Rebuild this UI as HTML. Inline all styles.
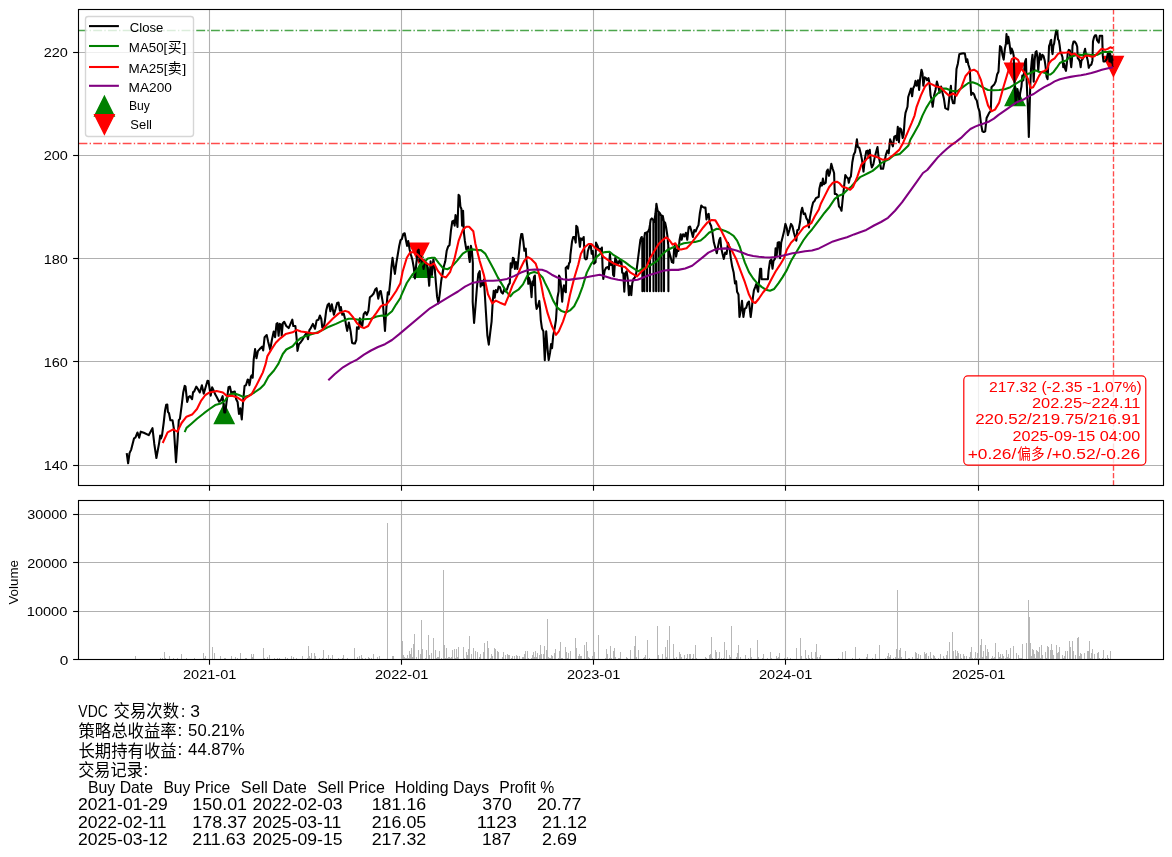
<!DOCTYPE html>
<html lang="zh"><head><meta charset="utf-8"><title>VDC</title>
<style>html,body{margin:0;padding:0;background:#fff}svg text{white-space:pre}.f{font-family:"Liberation Sans","Noto Sans CJK SC",sans-serif}</style></head>
<body>
<svg width="1172" height="857" viewBox="0 0 1172 857" style="display:block;will-change:transform">
<defs><mask id="mk" maskUnits="userSpaceOnUse" x="0" y="0" width="1172" height="857"><rect width="1172" height="857" fill="#fff"/></mask></defs>
<g mask="url(#mk)">
<rect x="0" y="0" width="1172" height="857" fill="#fff"/>
<clipPath id="c1"><rect x="78.5" y="9.5" width="1085.0" height="476.0"/></clipPath>
<g clip-path="url(#c1)">
<path d="M224.23 404.02 L214.43 423.62 L234.03 423.62 Z" fill="#008000" stroke="#008000" stroke-width="1.39" stroke-linejoin="miter"/>
<path d="M423.12 257.61 L413.32 277.21 L432.92 277.21 Z" fill="#008000" stroke="#008000" stroke-width="1.39" stroke-linejoin="miter"/>
<path d="M1015.04 85.91 L1005.24 105.51 L1024.84 105.51 Z" fill="#008000" stroke="#008000" stroke-width="1.39" stroke-linejoin="miter"/>
<path d="M418.91 262.81 L409.11 243.21 L428.71 243.21 Z" fill="#ff0000" stroke="#ff0000" stroke-width="1.39" stroke-linejoin="miter"/>
<path d="M1014.51 82.69 L1004.71 63.09 L1024.31 63.09 Z" fill="#ff0000" stroke="#ff0000" stroke-width="1.39" stroke-linejoin="miter"/>
<path d="M1113.43 76.14 L1103.63 56.54 L1123.23 56.54 Z" fill="#ff0000" stroke="#ff0000" stroke-width="1.39" stroke-linejoin="miter"/>
<line x1="209.5" y1="9.5" x2="209.5" y2="485.5" stroke="#b0b0b0" stroke-width="1.11"/>
<line x1="401.5" y1="9.5" x2="401.5" y2="485.5" stroke="#b0b0b0" stroke-width="1.11"/>
<line x1="593.5" y1="9.5" x2="593.5" y2="485.5" stroke="#b0b0b0" stroke-width="1.11"/>
<line x1="785.5" y1="9.5" x2="785.5" y2="485.5" stroke="#b0b0b0" stroke-width="1.11"/>
<line x1="978.5" y1="9.5" x2="978.5" y2="485.5" stroke="#b0b0b0" stroke-width="1.11"/>
<line x1="78.5" y1="465.5" x2="1163.5" y2="465.5" stroke="#b0b0b0" stroke-width="1.11"/>
<line x1="78.5" y1="361.5" x2="1163.5" y2="361.5" stroke="#b0b0b0" stroke-width="1.11"/>
<line x1="78.5" y1="258.5" x2="1163.5" y2="258.5" stroke="#b0b0b0" stroke-width="1.11"/>
<line x1="78.5" y1="155.5" x2="1163.5" y2="155.5" stroke="#b0b0b0" stroke-width="1.11"/>
<line x1="78.5" y1="52.5" x2="1163.5" y2="52.5" stroke="#b0b0b0" stroke-width="1.11"/>
<path d="M126.72 453.09 L128.12 463.31 L129.52 453.09 L131.20 449.59 L134.00 438.39 L135.40 437.69 L137.50 432.51 L139.18 437.69 L140.72 431.67 L143.80 432.79 L148.70 435.17 L152.48 428.17 L154.30 443.99 L156.40 457.99 L159.20 442.59 L160.17 435.59 L161.01 438.39 L161.99 435.59 L163.67 422.99 L165.07 410.39 L166.19 404.79 L167.31 404.51 L167.87 411.79 L168.99 413.19 L170.39 420.19 L172.49 420.19 L173.89 428.59 L175.99 462.19 L177.67 438.39 L178.79 420.19 L179.91 418.79 L181.59 406.19 L183.27 392.20 L184.67 385.90 L185.51 386.60 L187.19 401.99 L188.59 397.10 L189.99 396.12 L192.09 399.20 L193.07 392.20 L194.19 391.50 L196.29 386.60 L198.11 389.40 L199.79 392.48 L201.89 385.20 L203.71 393.60 L205.39 388.00 L207.49 380.72 L208.47 381.00 L210.71 395.70 L212.11 387.30 L213.51 390.10 L215.19 394.30 L216.59 396.68 L219.11 401.71 L221.07 399.90 L222.61 396.12 L224.29 412.49 L225.27 412.49 L226.39 403.39 L228.49 387.30 L229.89 386.60 L231.29 392.90 L233.11 391.92 L234.79 391.50 L236.19 399.20 L237.59 401.99 L238.99 413.89 L240.38 408.29 L241.78 419.49 L243.18 400.59 L244.58 385.90 L245.98 385.20 L247.66 379.60 L248.50 379.88 L249.48 385.20 L250.88 376.80 L251.58 375.40 L252.70 377.79 L253.68 359.59 L255.08 349.09 L256.48 358.19 L257.88 351.19 L259.70 349.09 L262.08 346.71 L263.20 350.49 L264.60 337.19 L266.70 335.09 L268.10 341.39 L270.20 349.79 L271.88 339.99 L273.70 331.59 L275.10 337.19 L276.50 323.89 L277.48 323.19 L278.60 335.79 L279.72 323.89 L281.12 324.59 L281.68 335.79 L282.80 323.19 L284.20 321.79 L286.29 325.99 L288.67 328.09 L290.49 323.89 L292.31 319.69 L293.29 325.99 L295.39 325.99 L296.51 337.19 L297.49 350.91 L298.89 344.19 L300.29 342.79 L302.39 339.99 L304.49 335.79 L306.59 332.99 L307.99 339.29 L309.39 330.19 L310.79 328.09 L312.89 323.89 L314.99 328.79 L316.67 320.39 L318.49 319.69 L319.89 315.49 L321.29 318.99 L322.27 327.39 L323.39 328.79 L324.79 321.79 L326.19 310.59 L327.59 305.00 L328.99 303.60 L330.39 311.29 L331.79 304.30 L332.91 309.90 L333.89 314.79 L335.71 308.50 L337.11 302.90 L338.51 302.48 L339.91 310.59 L340.89 307.10 L342.29 314.79 L343.69 313.39 L345.09 318.99 L346.07 325.29 L347.19 330.89 L348.87 322.49 L350.69 331.59 L352.09 342.79 L353.49 343.49 L354.89 343.49 L356.29 339.99 L356.99 327.39 L358.67 328.79 L359.79 318.29 L360.91 323.89 L362.31 325.99 L363.71 314.09 L365.38 311.99 L366.78 314.79 L368.46 310.59 L369.86 297.30 L371.68 295.90 L373.50 293.80 L375.18 289.60 L376.58 288.20 L378.26 298.70 L379.66 291.70 L380.78 291.00 L382.88 302.90 L384.98 330.89 L386.38 307.80 L387.78 292.40 L388.90 294.50 L390.58 278.40 L391.40 267.59 L392.52 257.79 L393.92 267.59 L394.90 273.89 L396.30 263.39 L397.70 254.99 L399.10 246.59 L400.50 240.29 L401.90 238.89 L403.30 233.99 L404.70 233.29 L406.10 240.99 L407.08 245.89 L408.20 240.99 L409.60 249.39 L411.00 254.99 L412.40 259.89 L413.80 267.59 L414.92 278.51 L416.32 263.39 L417.72 250.79 L418.70 249.67 L419.68 261.29 L420.80 256.39 L421.92 260.59 L423.60 268.99 L425.00 261.29 L426.68 263.39 L427.80 268.99 L429.20 285.79 L430.59 261.29 L431.99 274.59 L433.39 259.19 L434.79 268.99 L435.91 282.99 L436.89 294.19 L437.00 296.40 L438.40 303.39 L439.80 293.60 L441.20 281.00 L443.30 268.40 L442.49 274.59 L443.89 266.19 L445.29 261.29 L446.69 250.79 L448.09 246.59 L449.49 245.19 L450.89 231.19 L452.29 221.40 L453.69 220.70 L454.67 225.59 L455.51 215.10 L456.49 218.60 L457.47 226.99 L458.59 194.80 L459.57 196.20 L460.41 206.70 L461.39 208.80 L462.09 225.59 L463.07 210.90 L463.91 232.59 L464.89 240.99 L466.29 249.39 L468.11 246.59 L469.09 257.79 L469.79 261.99 L470.91 245.89 L471.89 250.79 L472.87 263.39 L472.69 301.99 L474.09 322.99 L475.49 306.19 L476.89 288.00 L478.29 274.00 L479.69 271.20 L480.67 286.60 L481.79 281.00 L482.91 285.20 L483.89 279.60 L484.87 295.00 L485.99 313.19 L487.39 335.59 L488.79 344.69 L490.19 332.79 L491.59 321.59 L492.71 301.99 L493.69 290.80 L494.67 297.80 L495.79 290.10 L497.19 292.20 L498.59 286.60 L499.99 287.30 L501.39 292.20 L502.79 293.60 L504.19 289.40 L505.59 291.50 L506.99 289.40 L508.39 285.20 L509.79 283.10 L510.66 263.39 L511.78 267.59 L512.90 257.79 L513.88 258.49 L514.86 268.99 L515.98 261.99 L517.38 268.99 L518.78 254.99 L520.18 240.99 L521.30 233.99 L522.28 233.99 L523.26 240.99 L524.38 250.79 L525.78 248.69 L526.38 259.55 L527.52 267.90 L528.28 283.83 L529.04 277.76 L529.80 280.04 L530.55 285.35 L531.54 297.11 L532.45 281.56 L533.21 285.35 L533.97 277.00 L534.88 275.49 L535.33 291.42 L535.86 303.56 L536.62 308.87 L537.76 306.59 L539.28 300.90 L540.04 308.11 L540.80 320.02 L541.99 328.59 L543.39 331.39 L544.79 360.09 L546.19 331.39 L547.59 349.59 L548.71 360.09 L550.10 352.39 L551.08 343.99 L552.06 348.19 L553.18 335.59 L554.58 328.59 L555.97 320.02 L556.73 308.11 L557.49 297.49 L558.63 291.42 L559.01 275.49 L560.14 277.76 L561.28 289.14 L562.19 301.66 L562.95 291.42 L563.94 285.35 L565.08 291.42 L565.83 292.18 L566.21 280.04 L565.68 267.90 L567.35 266.38 L568.11 268.66 L569.02 263.35 L570.01 261.83 L570.40 255.19 L572.08 241.19 L573.20 236.99 L574.60 236.99 L575.72 242.59 L576.28 225.80 L577.40 227.20 L578.80 236.99 L579.92 246.79 L580.90 238.39 L582.30 239.79 L583.70 236.99 L584.68 257.99 L585.80 259.39 L586.92 258.69 L587.90 250.99 L589.30 246.79 L590.70 244.69 L591.68 253.79 L592.80 250.99 L593.92 263.59 L595.59 262.19 L596.01 242.59 L597.69 246.09 L598.67 250.29 L599.79 248.89 L600.49 250.99 L601.89 247.49 L602.59 267.79 L603.29 278.99 L604.69 270.59 L606.09 267.79 L607.91 267.09 L608.89 269.19 L609.87 253.79 L610.99 264.99 L612.39 262.19 L613.09 274.79 L614.07 276.19 L615.19 257.99 L616.59 260.79 L617.29 264.99 L618.69 262.19 L619.67 260.09 L620.51 263.59 L621.49 262.19 L622.19 272.69 L623.31 273.39 L624.29 291.59 L625.27 273.39 L626.67 271.29 L627.79 278.99 L628.91 295.09 L629.89 285.99 L631.29 295.09 L632.27 283.19 L633.39 278.99 L634.79 277.59 L636.19 273.39 L637.59 262.19 L638.99 250.99 L640.39 239.79 L641.79 236.99 L641.20 237.70 L641.90 238.00 L642.28 239.27 L642.40 291.20 L642.52 240.07 L643.40 243.00 L644.28 237.50 L644.40 291.20 L644.52 236.00 L645.00 233.00 L646.40 232.50 L646.98 232.25 L647.10 291.20 L647.22 232.14 L648.00 231.80 L649.30 229.00 L649.88 225.11 L650.00 291.20 L650.12 223.49 L650.70 219.60 L651.80 218.40 L652.80 219.60 L653.38 220.59 L653.50 291.20 L653.62 221.01 L654.20 222.00 L655.40 214.00 L655.98 208.08 L656.10 291.20 L656.22 205.64 L656.40 203.80 L657.60 210.80 L658.58 211.82 L658.70 291.20 L658.82 212.07 L659.90 213.20 L661.10 215.50 L661.28 215.55 L661.40 291.20 L661.52 215.62 L662.80 216.00 L663.80 221.30 L663.88 221.40 L664.00 291.20 L664.12 221.69 L665.20 223.00 L666.30 228.30 L667.50 236.50 L668.00 243.00 L668.28 245.24 L668.40 291.20 L668.52 247.16 L669.00 251.00 L670.49 256.59 L671.89 262.19 L673.29 262.89 L673.99 250.29 L675.10 243.99 L676.08 256.59 L677.48 249.59 L678.46 250.99 L679.58 239.79 L680.70 234.20 L681.68 239.79 L683.08 234.20 L684.48 236.29 L685.88 232.80 L687.28 239.79 L688.68 227.20 L690.08 226.50 L691.48 231.40 L692.88 236.99 L694.28 230.00 L695.68 231.40 L697.08 227.90 L698.48 225.10 L699.88 213.20 L701.28 205.50 L702.68 206.90 L704.08 207.60 L705.48 207.60 L706.46 219.50 L707.58 214.60 L708.70 213.90 L709.68 223.00 L711.08 225.80 L712.48 232.80 L713.88 242.59 L716.80 253.29 L718.20 245.59 L719.32 240.00 L720.30 237.90 L721.28 248.39 L722.40 253.29 L723.80 258.89 L725.20 252.59 L726.60 253.99 L728.00 242.80 L729.40 246.99 L730.80 258.19 L732.20 266.59 L733.60 272.19 L735.00 283.39 L736.12 281.29 L737.10 291.79 L738.50 294.59 L739.48 316.99 L740.59 311.39 L741.99 300.89 L743.39 316.99 L744.79 308.59 L746.19 307.89 L747.59 302.99 L748.99 301.59 L750.67 316.99 L751.79 308.59 L752.91 297.39 L753.89 290.39 L755.29 286.89 L756.27 284.09 L757.39 288.99 L758.09 291.79 L759.07 281.29 L760.19 268.69 L761.17 268.69 L761.59 279.19 L764.39 279.19 L767.89 279.19 L768.59 270.79 L769.99 260.99 L771.39 259.59 L772.51 268.69 L773.49 260.99 L774.89 258.89 L775.59 248.39 L776.71 255.39 L777.69 242.80 L779.09 242.10 L780.07 258.19 L781.19 242.80 L782.59 237.20 L783.99 231.60 L785.39 223.90 L786.79 228.10 L787.91 235.10 L789.59 229.50 L790.99 223.90 L792.39 226.00 L793.79 232.30 L795.19 237.20 L796.31 240.70 L797.29 230.20 L798.69 229.50 L800.09 221.80 L801.07 212.00 L802.19 207.80 L803.59 214.10 L804.99 213.40 L806.39 218.30 L807.79 220.40 L808.91 227.40 L809.89 217.60 L811.29 210.60 L811.70 207.99 L813.10 202.39 L814.50 200.99 L815.90 198.19 L817.30 197.49 L818.70 196.79 L819.40 188.39 L820.80 182.79 L821.92 185.59 L822.90 178.59 L823.88 184.19 L825.70 182.79 L826.68 171.59 L827.80 169.49 L828.92 175.79 L829.90 172.99 L831.29 163.89 L832.69 168.79 L834.09 172.99 L834.79 193.99 L836.19 193.99 L837.59 195.39 L838.99 206.59 L840.39 207.99 L841.51 210.79 L842.91 196.79 L843.89 188.39 L845.29 175.09 L846.69 177.19 L848.09 178.59 L848.79 182.79 L849.91 177.89 L850.89 176.49 L852.29 162.49 L853.69 154.79 L855.09 151.99 L856.91 139.40 L857.89 147.10 L859.29 147.80 L860.69 153.39 L862.09 160.39 L863.49 171.59 L864.89 158.99 L866.29 151.29 L867.69 150.59 L868.67 157.59 L869.79 149.90 L870.91 163.19 L871.89 167.39 L873.29 164.59 L874.69 157.59 L876.09 151.99 L877.49 147.10 L878.47 156.19 L879.59 160.39 L880.99 168.79 L883.09 168.79 L884.49 161.79 L885.89 154.79 L887.29 150.59 L888.69 153.39 L890.09 139.40 L891.49 142.90 L892.89 146.40 L894.29 136.60 L895.69 135.90 L896.67 140.10 L897.79 126.80 L898.91 142.20 L899.89 128.20 L901.29 129.60 L902.69 138.00 L903.67 134.50 L904.79 118.40 L905.49 112.80 L907.50 106.79 L908.20 96.99 L909.60 92.79 L911.00 88.59 L912.12 96.29 L913.10 88.59 L914.50 85.79 L915.48 80.89 L916.60 85.79 L918.00 80.19 L919.12 89.99 L920.10 78.79 L921.50 69.69 L922.48 73.19 L923.32 85.79 L924.72 77.39 L926.12 78.09 L927.10 80.19 L928.50 78.09 L929.48 82.99 L930.59 95.59 L931.71 99.79 L932.69 106.79 L934.09 95.59 L935.49 89.99 L936.89 81.59 L938.29 86.49 L939.69 92.79 L941.09 86.49 L942.49 92.79 L943.89 98.39 L945.29 108.19 L946.69 108.89 L948.09 109.59 L949.49 96.29 L950.89 85.79 L951.87 98.39 L952.99 103.29 L954.39 103.29 L955.09 95.59 L956.49 68.99 L957.89 63.39 L959.29 54.30 L961.39 53.60 L963.49 53.32 L964.89 53.60 L966.29 61.99 L967.27 59.20 L968.39 64.79 L969.79 68.99 L970.49 82.99 L971.19 94.89 L972.59 92.79 L973.99 94.19 L975.39 98.39 L976.79 100.49 L978.19 107.49 L979.59 111.69 L980.99 123.59 L982.39 131.29 L983.79 131.99 L985.19 131.29 L986.59 117.99 L987.99 115.19 L989.39 112.39 L990.79 110.99 L991.49 87.19 L992.89 85.79 L994.29 84.39 L995.69 81.59 L997.09 74.59 L998.49 71.79 L999.19 59.20 L1000.00 46.13 L1001.23 47.36 L1002.45 54.71 L1003.68 59.62 L1004.90 48.58 L1005.88 43.68 L1006.50 33.99 L1007.48 43.43 L1008.34 36.81 L1009.32 42.45 L1009.81 46.13 L1010.79 53.49 L1011.65 48.58 L1012.87 51.65 L1013.73 55.94 L1014.47 80.46 L1014.96 91.49 L1015.69 103.75 L1016.55 98.85 L1017.41 89.04 L1018.39 93.94 L1019.37 100.07 L1020.23 92.72 L1021.45 86.59 L1022.31 75.55 L1023.29 80.46 L1024.27 69.42 L1025.13 61.45 L1025.99 59.00 L1026.48 76.78 L1027.22 93.94 L1027.95 108.65 L1028.81 136.85 L1029.42 116.01 L1030.16 89.04 L1030.89 70.65 L1031.63 62.07 L1032.49 54.71 L1033.10 68.20 L1033.71 81.68 L1034.57 60.84 L1035.55 52.26 L1036.53 51.03 L1037.39 57.16 L1038.25 70.65 L1038.98 62.07 L1039.84 53.49 L1041.07 59.62 L1042.29 54.71 L1043.52 55.94 L1044.75 60.84 L1045.61 66.97 L1046.59 76.78 L1047.57 79.23 L1048.42 62.07 L1049.04 46.13 L1050.02 43.68 L1050.63 40.61 L1051.18 39.92 L1051.81 49.90 L1052.55 54.09 L1053.39 45.70 L1054.12 43.60 L1055.17 36.25 L1056.22 30.47 L1057.27 31.00 L1058.01 39.40 L1058.85 40.45 L1059.69 45.70 L1060.42 51.99 L1061.47 54.09 L1062.52 57.24 L1063.25 67.22 L1064.09 63.54 L1065.14 68.79 L1065.98 70.89 L1066.72 64.59 L1067.77 53.04 L1068.82 49.90 L1069.87 50.42 L1070.39 59.87 L1071.23 67.22 L1071.97 59.34 L1072.49 45.70 L1073.54 41.50 L1074.59 41.50 L1076.17 43.60 L1077.22 46.75 L1077.74 58.29 L1078.79 59.34 L1079.84 61.44 L1080.68 67.22 L1081.42 60.39 L1082.47 59.34 L1083.52 57.24 L1084.25 51.99 L1085.09 48.85 L1085.93 54.09 L1086.67 56.19 L1087.72 60.39 L1088.77 67.74 L1089.82 65.64 L1091.39 64.59 L1092.44 60.39 L1092.97 41.50 L1094.02 37.30 L1095.07 35.20 L1096.12 35.20 L1097.17 40.45 L1098.74 42.55 L1099.79 35.72 L1101.05 35.72 L1102.20 35.72 L1102.73 55.14 L1103.46 61.44 L1105.04 61.44 L1106.61 59.34 L1107.66 54.09 L1108.71 51.99 L1109.45 61.44 L1110.29 54.09 L1111.34 62.49 L1112.18 56.19 L1112.91 66.69" fill="none" stroke="#000" stroke-width="2.08" stroke-linejoin="round" stroke-linecap="butt"/>
<path d="M184.67 432.09 L186.49 427.89 L191.39 423.69 L196.99 418.79 L203.99 413.19 L209.59 408.99 L215.19 405.07 L220.79 403.39 L224.99 400.59 L227.79 396.40 L230.59 394.02 L234.79 393.60 L238.99 395.00 L243.88 397.10 L248.78 395.70 L254.38 392.48 L259.98 388.70 L264.18 384.50 L268.38 376.80 L273.98 370.50 L278.18 364.20 L282.80 353.99 L286.29 349.51 L292.59 346.29 L296.79 341.39 L300.99 337.89 L306.59 335.79 L312.19 334.11 L317.79 332.29 L323.39 329.49 L328.99 326.69 L335.99 323.89 L342.99 320.67 L348.59 318.71 L352.79 318.71 L358.39 319.69 L363.99 319.27 L370.98 318.71 L376.58 316.47 L382.18 315.49 L386.38 315.91 L391.98 311.29 L396.18 304.30 L400.38 298.00 L401.20 295.59 L406.80 282.99 L412.40 274.59 L418.00 268.99 L423.60 262.69 L427.80 258.49 L431.99 257.79 L434.79 257.79 L438.99 263.39 L443.19 268.29 L447.39 269.27 L451.59 266.89 L457.19 260.59 L462.79 253.59 L468.39 250.09 L472.59 249.39 L476.79 250.09 L480.99 250.09 L485.19 253.59 L489.39 261.29 L493.59 268.99 L497.79 277.39 L501.99 284.39 L506.19 291.39 L510.38 296.29 L513.18 292.79 L518.78 289.29 L522.98 284.39 L527.18 275.99 L529.98 273.19 L534.18 272.07 L538.38 273.19 L542.58 277.39 L544.79 282.40 L548.99 290.80 L553.18 300.59 L557.38 307.59 L561.58 311.09 L565.78 312.49 L569.98 310.39 L574.18 306.19 L578.38 297.80 L582.58 286.60 L586.78 272.60 L591.40 263.59 L596.99 256.59 L601.19 253.09 L605.39 252.11 L609.59 251.69 L613.79 255.19 L619.39 258.69 L624.99 262.19 L630.59 266.39 L634.79 269.19 L638.29 271.29 L641.79 269.19 L647.39 267.09 L652.99 263.59 L657.19 260.79 L661.39 255.19 L666.99 250.29 L672.59 247.49 L678.18 245.39 L683.78 243.29 L689.38 242.59 L694.98 241.89 L700.58 240.49 L704.78 236.99 L708.98 232.80 L716.80 228.80 L721.00 229.50 L725.20 230.90 L729.40 233.00 L733.60 235.80 L737.10 240.70 L739.90 246.99 L741.99 253.99 L744.79 262.39 L748.99 272.19 L753.19 278.49 L757.39 283.39 L761.59 286.89 L765.79 289.69 L769.99 290.67 L774.19 288.99 L778.39 283.39 L782.59 277.09 L786.79 270.09 L790.99 260.99 L795.19 253.99 L799.39 246.99 L803.59 240.00 L807.79 234.40 L811.99 229.50 L816.19 223.90 L820.38 218.30 L824.58 212.70 L828.78 207.80 L834.79 198.89 L838.99 195.67 L843.19 193.99 L847.39 189.79 L851.59 186.29 L855.79 181.39 L859.99 177.19 L864.19 175.09 L868.39 172.99 L872.59 170.89 L876.79 167.39 L880.99 163.19 L885.19 161.09 L889.39 158.99 L893.59 155.49 L899.19 154.09 L900.00 153.85 L905.63 148.22 L908.45 145.40 L910.33 139.77 L914.08 133.19 L918.78 124.74 L922.54 115.35 L926.29 107.84 L930.05 101.74 L934.74 96.57 L939.44 91.88 L941.79 88.59 L945.99 88.59 L951.59 90.69 L957.19 91.39 L962.79 87.19 L968.39 82.99 L972.59 82.29 L976.79 83.69 L982.39 87.19 L987.99 89.99 L993.59 90.27 L999.19 89.99 L1004.79 89.29 L1010.38 87.19 L1015.98 83.69 L1021.58 80.19 L1025.78 74.59 L1029.98 73.19 L1032.60 71.94 L1035.75 70.37 L1038.90 71.94 L1042.05 71.94 L1045.20 72.99 L1047.82 74.57 L1050.45 74.57 L1053.60 71.94 L1056.75 67.74 L1059.90 63.02 L1063.04 61.44 L1066.19 60.39 L1069.34 57.24 L1072.49 56.19 L1075.64 55.14 L1078.79 54.62 L1081.94 55.14 L1085.09 53.57 L1088.24 54.62 L1091.39 55.14 L1094.54 55.14 L1097.69 54.62 L1100.84 53.04 L1103.99 51.99 L1107.14 51.99 L1110.29 51.47 L1112.91 52.52" fill="none" stroke="#008000" stroke-width="2.08" stroke-linejoin="round"/>
<path d="M162.69 443.01 L167.59 432.37 L173.19 429.29 L177.39 431.67 L181.59 422.99 L186.49 416.69 L192.09 414.59 L196.99 408.99 L201.19 400.59 L205.39 395.00 L209.59 392.48 L216.59 391.08 L222.89 392.48 L227.09 396.12 L231.99 395.70 L237.59 397.52 L243.18 401.29 L245.98 397.80 L251.58 394.30 L255.78 386.60 L259.98 378.20 L262.78 372.60 L265.58 364.20 L267.40 356.09 L271.60 349.09 L275.80 342.79 L280.00 338.59 L285.59 334.11 L292.59 332.29 L296.79 329.91 L300.99 331.59 L306.59 332.29 L312.19 333.27 L317.79 332.99 L321.99 330.19 L327.59 323.89 L333.19 318.29 L338.79 313.39 L345.09 310.87 L348.59 311.99 L352.79 316.89 L356.99 323.19 L361.19 327.11 L363.99 328.09 L368.18 325.99 L372.38 318.29 L376.58 312.69 L380.78 306.40 L383.58 304.72 L386.38 304.72 L390.58 299.40 L396.18 291.00 L400.38 283.30 L402.60 271.79 L406.80 257.79 L410.30 252.19 L413.80 252.19 L418.00 254.99 L422.20 259.19 L426.40 263.39 L430.59 265.49 L434.09 263.39 L437.59 270.39 L441.79 275.99 L445.99 277.39 L450.19 271.79 L454.39 259.19 L458.59 240.99 L462.79 229.79 L466.29 226.71 L469.09 226.71 L473.29 231.19 L475.39 243.79 L479.59 260.59 L483.79 274.59 L487.99 294.19 L492.29 303.39 L495.79 300.59 L499.99 302.69 L504.89 304.79 L508.39 296.40 L512.59 285.20 L516.79 276.80 L520.18 268.99 L524.38 260.59 L527.88 257.09 L531.38 259.19 L535.58 263.39 L538.38 271.79 L540.59 281.00 L543.39 296.40 L547.59 313.19 L551.78 325.79 L555.98 334.89 L558.78 331.39 L562.98 321.59 L567.18 308.99 L569.98 295.00 L574.18 278.20 L578.38 264.20 L580.90 253.79 L584.40 247.49 L588.60 243.99 L591.40 243.99 L595.59 248.19 L599.79 250.99 L603.29 256.59 L608.19 260.09 L613.79 263.59 L619.39 265.69 L624.99 267.09 L630.59 272.69 L636.89 276.47 L641.79 271.29 L645.99 267.79 L650.19 257.99 L654.39 250.99 L658.59 243.99 L662.79 239.79 L666.29 237.27 L669.09 239.79 L672.59 244.69 L675.38 243.29 L678.18 248.89 L680.98 249.59 L686.58 248.19 L690.78 243.99 L694.98 238.39 L699.18 232.80 L703.38 227.20 L707.58 222.30 L711.78 219.92 L715.40 220.40 L719.60 227.40 L723.80 235.80 L728.00 244.20 L732.20 251.19 L736.40 259.59 L740.59 270.79 L744.79 281.99 L748.99 294.59 L752.49 301.59 L755.29 302.99 L758.79 298.79 L762.99 292.49 L767.19 287.59 L771.39 279.19 L775.59 271.49 L779.79 265.19 L783.99 258.19 L786.79 249.79 L790.99 242.80 L795.19 238.60 L799.39 233.00 L803.59 227.40 L807.79 225.30 L811.29 223.20 L814.79 216.20 L818.99 209.20 L820.80 203.79 L825.00 195.39 L829.20 186.99 L832.69 182.79 L836.89 181.67 L839.69 183.49 L842.49 186.71 L845.99 187.69 L850.19 189.79 L852.99 186.99 L857.19 177.19 L861.39 164.59 L865.59 160.39 L869.79 155.07 L873.99 155.91 L878.19 157.59 L882.39 159.69 L887.99 158.99 L893.59 154.79 L899.19 149.90 L903.39 142.20 L907.59 132.40 L911.78 122.60 L914.58 115.60 L916.60 106.79 L920.80 95.59 L925.00 86.49 L928.50 82.99 L931.99 84.39 L936.19 86.49 L940.39 87.19 L944.59 91.39 L948.79 95.59 L952.99 93.49 L956.49 95.59 L961.39 87.19 L965.59 75.99 L969.79 71.09 L973.99 69.69 L977.49 71.79 L980.99 80.19 L985.19 95.59 L987.99 105.39 L991.49 111.27 L994.99 109.59 L999.19 102.59 L1003.39 87.19 L1007.59 73.19 L1011.78 59.20 L1014.58 57.52 L1018.08 59.90 L1021.58 68.99 L1024.38 72.49 L1027.88 78.79 L1030.68 87.89 L1033.12 87.17 L1035.75 82.44 L1038.90 76.14 L1041.52 71.94 L1044.67 70.89 L1047.30 68.79 L1048.87 63.54 L1051.50 60.39 L1054.65 58.29 L1057.80 54.09 L1060.42 52.52 L1064.09 52.83 L1066.72 52.52 L1068.82 51.99 L1071.44 54.62 L1074.59 53.57 L1077.22 55.67 L1079.84 57.24 L1082.47 58.29 L1085.62 55.67 L1088.77 55.67 L1091.92 56.72 L1094.54 56.19 L1097.69 53.04 L1100.84 49.37 L1102.94 48.85 L1105.04 49.90 L1107.66 48.85 L1110.29 47.27 L1112.91 48.32" fill="none" stroke="#ff0000" stroke-width="2.08" stroke-linejoin="round"/>
<path d="M328.29 380.31 L334.59 374.29 L342.99 367.29 L349.99 363.09 L356.99 359.59 L363.99 354.69 L370.98 350.49 L377.98 346.99 L384.98 344.19 L391.98 339.99 L398.98 334.39 L430.00 308.29 L437.00 304.09 L444.00 299.90 L451.00 295.70 L458.00 291.50 L465.00 286.60 L471.99 283.10 L478.99 281.70 L485.99 280.72 L492.99 280.72 L499.99 280.30 L506.99 278.90 L513.99 276.10 L520.99 272.60 L527.99 270.08 L534.99 269.52 L541.99 269.80 L546.19 271.20 L551.78 274.70 L557.38 277.50 L562.98 279.32 L568.58 279.88 L575.58 278.90 L582.58 277.92 L591.40 276.19 L599.79 274.79 L603.99 275.91 L610.99 278.29 L617.99 279.69 L624.99 280.67 L631.99 280.39 L637.59 279.69 L643.19 277.59 L650.19 274.79 L657.19 272.69 L664.19 270.59 L671.19 269.89 L678.18 269.89 L685.18 268.49 L692.18 265.69 L704.20 256.09 L708.40 252.59 L714.00 250.07 L719.60 248.67 L725.20 248.39 L730.80 249.09 L736.40 250.49 L741.99 252.59 L747.59 254.69 L753.19 256.09 L758.79 256.79 L764.39 257.21 L769.99 257.49 L775.59 257.07 L781.19 256.09 L786.79 254.69 L792.39 253.29 L797.99 252.59 L804.99 251.19 L811.99 250.49 L818.99 248.39 L825.98 244.90 L832.98 241.40 L839.98 239.30 L846.98 237.20 L853.98 234.40 L860.00 232.30 L866.29 229.97 L873.99 225.49 L880.99 221.99 L887.99 217.79 L894.99 210.79 L901.99 202.39 L908.99 192.59 L915.98 182.79 L922.98 172.99 L927.23 170.00 L932.86 163.24 L937.56 157.61 L942.25 152.91 L946.95 148.69 L951.64 144.93 L956.34 141.64 L961.03 137.89 L965.73 133.19 L970.42 128.97 L975.12 126.62 L979.81 124.74 L984.51 123.33 L989.20 121.46 L993.90 118.64 L998.59 114.88 L1003.29 111.60 L1007.98 108.31 L1015.98 102.59 L1022.98 99.79 L1029.98 95.59 L1033.65 93.99 L1038.90 90.31 L1044.15 87.17 L1049.40 84.54 L1054.65 81.39 L1059.90 79.29 L1065.14 78.03 L1070.39 76.88 L1075.64 75.93 L1080.89 75.30 L1086.14 74.25 L1091.39 72.99 L1096.64 71.42 L1101.89 69.84 L1107.14 68.58 L1112.91 67.22" fill="none" stroke="#800080" stroke-width="2.08" stroke-linejoin="round"/>
<line x1="78.5" y1="30.5" x2="1163.5" y2="30.5" stroke="#008000" stroke-opacity="0.7" stroke-width="1.39" stroke-dasharray="8.89 2.22 1.39 2.22"/>
<line x1="78.5" y1="143.5" x2="1163.5" y2="143.5" stroke="#ff0000" stroke-opacity="0.7" stroke-width="1.39" stroke-dasharray="8.89 2.22 1.39 2.22"/>
<line x1="1113.5" y1="485.5" x2="1113.5" y2="9.5" stroke="#ff0000" stroke-opacity="0.7" stroke-width="1.39" stroke-dasharray="5.14 2.22"/>
</g>
<rect x="78.5" y="9.5" width="1085.0" height="476.0" fill="none" stroke="#000" stroke-width="1.11"/>
<line x1="73.1" y1="465.50" x2="78.5" y2="465.50" stroke="#000" stroke-width="1.11"/>
<text x="43.78" y="470.00" font-size="13.1" class="f" fill="#000" text-anchor="start" textLength="24.18" lengthAdjust="spacingAndGlyphs">140</text>
<line x1="73.1" y1="361.50" x2="78.5" y2="361.50" stroke="#000" stroke-width="1.11"/>
<text x="43.78" y="367.00" font-size="13.1" class="f" fill="#000" text-anchor="start" textLength="24.18" lengthAdjust="spacingAndGlyphs">160</text>
<line x1="73.1" y1="258.50" x2="78.5" y2="258.50" stroke="#000" stroke-width="1.11"/>
<text x="43.78" y="264.00" font-size="13.1" class="f" fill="#000" text-anchor="start" textLength="24.18" lengthAdjust="spacingAndGlyphs">180</text>
<line x1="73.1" y1="155.50" x2="78.5" y2="155.50" stroke="#000" stroke-width="1.11"/>
<text x="43.78" y="160.00" font-size="13.1" class="f" fill="#000" text-anchor="start" textLength="24.18" lengthAdjust="spacingAndGlyphs">200</text>
<line x1="73.1" y1="52.50" x2="78.5" y2="52.50" stroke="#000" stroke-width="1.11"/>
<text x="43.78" y="57.00" font-size="13.1" class="f" fill="#000" text-anchor="start" textLength="24.18" lengthAdjust="spacingAndGlyphs">220</text>
<line x1="209.5" y1="485.5" x2="209.5" y2="490.7" stroke="#000" stroke-width="1.11"/>
<line x1="401.5" y1="485.5" x2="401.5" y2="490.7" stroke="#000" stroke-width="1.11"/>
<line x1="593.5" y1="485.5" x2="593.5" y2="490.7" stroke="#000" stroke-width="1.11"/>
<line x1="785.5" y1="485.5" x2="785.5" y2="490.7" stroke="#000" stroke-width="1.11"/>
<line x1="978.5" y1="485.5" x2="978.5" y2="490.7" stroke="#000" stroke-width="1.11"/>
<rect x="963.8" y="375.9" width="182.0" height="89.2" rx="4" ry="4" fill="#fff" fill-opacity="0.8" stroke="#ff0000" stroke-width="1.2"/>
<text x="989.02" y="391.50" font-size="14.9" class="f" fill="#ff0000" text-anchor="start" textLength="152.68" lengthAdjust="spacingAndGlyphs">217.32 (-2.35 -1.07%)</text>
<text x="1031.98" y="408.40" font-size="14.9" class="f" fill="#ff0000" text-anchor="start" textLength="108.49" lengthAdjust="spacingAndGlyphs">202.25~224.11</text>
<text x="975.15" y="424.30" font-size="14.9" class="f" fill="#ff0000" text-anchor="start" textLength="165.34" lengthAdjust="spacingAndGlyphs">220.52/219.75/216.91</text>
<text x="1012.49" y="440.50" font-size="14.9" class="f" fill="#ff0000" text-anchor="start" textLength="127.79" lengthAdjust="spacingAndGlyphs">2025-09-15 04:00</text>
<text x="967.74" y="458.50" font-size="14.9" class="f" fill="#ff0000" text-anchor="start" textLength="48.53" lengthAdjust="spacingAndGlyphs">+0.26/</text>
<text x="1017.30" y="458.50" font-size="14.6" class="f" fill="#ff0000" text-anchor="start" textLength="27.20" lengthAdjust="spacingAndGlyphs">偏多</text>
<text x="1046.90" y="458.50" font-size="14.9" class="f" fill="#ff0000" text-anchor="start" textLength="93.30" lengthAdjust="spacingAndGlyphs">/+0.52/-0.26</text>
<rect x="85.5" y="16.5" width="108.0" height="120.0" rx="2.8" ry="2.8" fill="#fff" fill-opacity="0.8" stroke="#ccc" stroke-opacity="0.8" stroke-width="1.39"/>
<line x1="89" y1="26.1" x2="118.9" y2="26.1" stroke="#000" stroke-width="2.08"/>
<line x1="89" y1="46.0" x2="118.9" y2="46.0" stroke="#008000" stroke-width="2.08"/>
<line x1="89" y1="67.0" x2="118.9" y2="67.0" stroke="#ff0000" stroke-width="2.08"/>
<line x1="89" y1="85.8" x2="118.9" y2="85.8" stroke="#800080" stroke-width="2.08"/>
<path d="M104.40 96.40 L94.60 116.00 L114.20 116.00 Z" fill="#008000" stroke="#008000" stroke-width="1.39" stroke-linejoin="miter"/>
<path d="M104.40 134.30 L94.60 114.70 L114.20 114.70 Z" fill="#ff0000" stroke="#ff0000" stroke-width="1.39" stroke-linejoin="miter"/>
<text x="129.74" y="31.80" font-size="12.7" class="f" fill="#000" text-anchor="start" textLength="33.57" lengthAdjust="spacingAndGlyphs">Close</text>
<text x="128.84" y="51.80" font-size="12.7" class="f" fill="#000" text-anchor="start" textLength="38.40" lengthAdjust="spacingAndGlyphs">MA50[</text>
<text x="167.70" y="52.30" font-size="13.9" class="f" fill="#000" text-anchor="start">买</text>
<text x="182.43" y="51.80" font-size="12.7" class="f" fill="#000" text-anchor="start" textLength="3.75" lengthAdjust="spacingAndGlyphs">]</text>
<text x="128.62" y="73.20" font-size="12.7" class="f" fill="#000" text-anchor="start" textLength="38.91" lengthAdjust="spacingAndGlyphs">MA25[</text>
<text x="167.70" y="72.70" font-size="13.9" class="f" fill="#000" text-anchor="start">卖</text>
<text x="182.33" y="73.20" font-size="12.7" class="f" fill="#000" text-anchor="start" textLength="4.03" lengthAdjust="spacingAndGlyphs">]</text>
<text x="128.61" y="91.70" font-size="12.7" class="f" fill="#000" text-anchor="start" textLength="43.32" lengthAdjust="spacingAndGlyphs">MA200</text>
<text x="128.93" y="109.80" font-size="12.7" class="f" fill="#000" text-anchor="start" textLength="20.95" lengthAdjust="spacingAndGlyphs">Buy</text>
<text x="130.32" y="128.50" font-size="12.7" class="f" fill="#000" text-anchor="start" textLength="21.56" lengthAdjust="spacingAndGlyphs">Sell</text>
<clipPath id="c2"><rect x="78.5" y="500.5" width="1085.0" height="159.0"/></clipPath>
<g clip-path="url(#c2)">
<line x1="209.5" y1="500.5" x2="209.5" y2="659.5" stroke="#b0b0b0" stroke-width="1.11"/>
<line x1="401.5" y1="500.5" x2="401.5" y2="659.5" stroke="#b0b0b0" stroke-width="1.11"/>
<line x1="593.5" y1="500.5" x2="593.5" y2="659.5" stroke="#b0b0b0" stroke-width="1.11"/>
<line x1="785.5" y1="500.5" x2="785.5" y2="659.5" stroke="#b0b0b0" stroke-width="1.11"/>
<line x1="978.5" y1="500.5" x2="978.5" y2="659.5" stroke="#b0b0b0" stroke-width="1.11"/>
<line x1="78.5" y1="611.5" x2="1163.5" y2="611.5" stroke="#b0b0b0" stroke-width="1.11"/>
<line x1="78.5" y1="562.5" x2="1163.5" y2="562.5" stroke="#b0b0b0" stroke-width="1.11"/>
<line x1="78.5" y1="514.5" x2="1163.5" y2="514.5" stroke="#b0b0b0" stroke-width="1.11"/>
<path d="M135 659V656h1V659zM160 659V658h1V659zM162 659V658h1V659zM164 659V652h1V659zM165 659V658h1V659zM169 659V656h1V659zM173 659V658h1V659zM177 659V658h1V659zM181 659V654h1V659zM186 659V658h1V659zM194 659V658h1V659zM203 659V653h1V659zM204 659V658h1V659zM205 659V656h1V659zM209 659V658h1V659zM212 659V647h1V659zM214 659V653h1V659zM220 659V656h1V659zM224 659V658h1V659zM225 659V658h1V659zM231 659V656h1V659zM235 659V657h1V659zM237 659V658h1V659zM240 659V653h1V659zM245 659V658h1V659zM246 659V658h1V659zM251 659V654h1V659zM252 659V657h1V659zM253 659V654h1V659zM263 659V648h1V659zM264 659V658h1V659zM267 659V657h1V659zM269 659V655h1V659zM274 659V658h1V659zM277 659V658h1V659zM279 659V658h1V659zM285 659V657h1V659zM287 659V658h1V659zM291 659V656h1V659zM293 659V657h1V659zM296 659V658h1V659zM302 659V656h1V659zM307 659V658h1V659zM308 659V646h1V659zM309 659V656h1V659zM310 659V658h1V659zM311 659V653h1V659zM314 659V653h1V659zM315 659V656h1V659zM319 659V658h1V659zM322 659V658h1V659zM323 659V650h1V659zM326 659V658h1V659zM328 659V655h1V659zM330 659V658h1V659zM332 659V655h1V659zM338 659V658h1V659zM342 659V658h1V659zM343 659V655h1V659zM347 659V658h1V659zM354 659V648h1V659zM357 659V657h1V659zM359 659V656h1V659zM361 659V655h1V659zM362 659V658h1V659zM365 659V658h1V659zM368 659V657h1V659zM369 659V658h1V659zM371 659V658h1V659zM373 659V654h1V659zM377 659V657h1V659zM379 659V656h1V659zM387 659V523h1V659zM392 659V656h1V659zM393 659V656h1V659zM401 659V658h1V659zM402 659V641h1V659zM403 659V655h1V659zM404 659V657h1V659zM405 659V658h1V659zM406 659V658h1V659zM407 659V655h1V659zM408 659V658h1V659zM409 659V651h1V659zM410 659V654h1V659zM411 659V648h1V659zM412 659V657h1V659zM413 659V644h1V659zM414 659V634h1V659zM416 659V657h1V659zM418 659V650h1V659zM420 659V654h1V659zM421 659V620h1V659zM422 659V649h1V659zM425 659V658h1V659zM426 659V650h1V659zM428 659V635h1V659zM429 659V655h1V659zM431 659V653h1V659zM433 659V638h1V659zM435 659V650h1V659zM436 659V658h1V659zM437 659V657h1V659zM438 659V657h1V659zM439 659V651h1V659zM441 659V658h1V659zM443 659V570h1V659zM444 659V645h1V659zM445 659V658h1V659zM446 659V648h1V659zM447 659V658h1V659zM448 659V657h1V659zM449 659V657h1V659zM450 659V658h1V659zM451 659V657h1V659zM452 659V650h1V659zM454 659V649h1V659zM455 659V658h1V659zM456 659V649h1V659zM457 659V657h1V659zM458 659V647h1V659zM463 659V647h1V659zM464 659V658h1V659zM466 659V652h1V659zM467 659V655h1V659zM468 659V649h1V659zM469 659V636h1V659zM471 659V654h1V659zM473 659V648h1V659zM475 659V651h1V659zM477 659V652h1V659zM479 659V657h1V659zM480 659V654h1V659zM483 659V652h1V659zM484 659V643h1V659zM487 659V641h1V659zM488 659V648h1V659zM490 659V658h1V659zM491 659V654h1V659zM492 659V656h1V659zM494 659V648h1V659zM495 659V649h1V659zM497 659V651h1V659zM498 659V652h1V659zM502 659V657h1V659zM503 659V652h1V659zM505 659V655h1V659zM507 659V654h1V659zM508 659V655h1V659zM509 659V655h1V659zM511 659V658h1V659zM512 659V656h1V659zM514 659V656h1V659zM516 659V655h1V659zM517 659V656h1V659zM519 659V656h1V659zM522 659V657h1V659zM523 659V657h1V659zM524 659V654h1V659zM525 659V651h1V659zM527 659V651h1V659zM528 659V658h1V659zM531 659V658h1V659zM532 659V655h1V659zM533 659V652h1V659zM534 659V657h1V659zM535 659V651h1V659zM536 659V657h1V659zM537 659V653h1V659zM539 659V655h1V659zM540 659V645h1V659zM541 659V654h1V659zM543 659V654h1V659zM544 659V646h1V659zM546 659V650h1V659zM547 659V619h1V659zM548 659V657h1V659zM549 659V658h1V659zM550 659V658h1V659zM551 659V655h1V659zM552 659V656h1V659zM554 659V653h1V659zM555 659V649h1V659zM558 659V658h1V659zM559 659V651h1V659zM560 659V642h1V659zM561 659V658h1V659zM562 659V658h1V659zM565 659V647h1V659zM566 659V652h1V659zM567 659V658h1V659zM568 659V653h1V659zM570 659V651h1V659zM575 659V638h1V659zM576 659V648h1V659zM578 659V656h1V659zM579 659V654h1V659zM580 659V656h1V659zM581 659V656h1V659zM584 659V645h1V659zM586 659V642h1V659zM587 659V651h1V659zM588 659V657h1V659zM589 659V658h1V659zM592 659V656h1V659zM593 659V657h1V659zM594 659V652h1V659zM598 659V635h1V659zM605 659V658h1V659zM606 659V649h1V659zM607 659V654h1V659zM609 659V658h1V659zM610 659V646h1V659zM611 659V658h1V659zM613 659V651h1V659zM614 659V648h1V659zM615 659V657h1V659zM618 659V658h1V659zM619 659V658h1V659zM620 659V652h1V659zM626 659V657h1V659zM627 659V658h1V659zM630 659V650h1V659zM634 659V646h1V659zM635 659V636h1V659zM636 659V657h1V659zM638 659V650h1V659zM643 659V658h1V659zM644 659V657h1V659zM645 659V655h1V659zM647 659V640h1V659zM649 659V658h1V659zM657 659V626h1V659zM658 659V655h1V659zM662 659V654h1V659zM665 659V647h1V659zM666 659V657h1V659zM667 659V640h1V659zM669 659V626h1V659zM673 659V644h1V659zM674 659V658h1V659zM676 659V657h1V659zM679 659V652h1V659zM680 659V654h1V659zM681 659V657h1V659zM684 659V655h1V659zM686 659V658h1V659zM687 659V654h1V659zM689 659V654h1V659zM690 659V654h1V659zM692 659V658h1V659zM693 659V654h1V659zM695 659V645h1V659zM696 659V658h1V659zM705 659V657h1V659zM706 659V658h1V659zM709 659V655h1V659zM710 659V654h1V659zM711 659V637h1V659zM712 659V658h1V659zM715 659V650h1V659zM716 659V652h1V659zM718 659V658h1V659zM719 659V652h1V659zM721 659V658h1V659zM723 659V658h1V659zM724 659V642h1V659zM726 659V650h1V659zM729 659V655h1V659zM730 659V657h1V659zM731 659V626h1V659zM736 659V657h1V659zM737 659V653h1V659zM738 659V645h1V659zM740 659V657h1V659zM745 659V655h1V659zM748 659V658h1V659zM750 659V648h1V659zM751 659V657h1V659zM757 659V640h1V659zM758 659V657h1V659zM762 659V658h1V659zM763 659V654h1V659zM767 659V658h1V659zM770 659V652h1V659zM771 659V658h1V659zM776 659V656h1V659zM777 659V658h1V659zM778 659V657h1V659zM779 659V653h1V659zM784 659V658h1V659zM787 659V657h1V659zM790 659V658h1V659zM796 659V648h1V659zM800 659V638h1V659zM801 659V656h1V659zM805 659V650h1V659zM806 659V658h1V659zM808 659V655h1V659zM809 659V658h1V659zM811 659V652h1V659zM812 659V658h1V659zM815 659V652h1V659zM816 659V644h1V659zM817 659V657h1V659zM819 659V657h1V659zM820 659V655h1V659zM838 659V658h1V659zM842 659V652h1V659zM845 659V651h1V659zM852 659V658h1V659zM855 659V647h1V659zM859 659V658h1V659zM866 659V657h1V659zM867 659V654h1V659zM872 659V658h1V659zM875 659V654h1V659zM879 659V645h1V659zM885 659V658h1V659zM887 659V656h1V659zM888 659V653h1V659zM889 659V657h1V659zM890 659V655h1V659zM893 659V658h1V659zM895 659V657h1V659zM896 659V649h1V659zM897 659V590h1V659zM898 659V658h1V659zM899 659V650h1V659zM900 659V648h1V659zM901 659V657h1V659zM905 659V651h1V659zM908 659V658h1V659zM909 659V658h1V659zM912 659V657h1V659zM915 659V652h1V659zM916 659V653h1V659zM917 659V658h1V659zM918 659V654h1V659zM920 659V655h1V659zM924 659V652h1V659zM925 659V654h1V659zM926 659V653h1V659zM928 659V656h1V659zM930 659V652h1V659zM931 659V658h1V659zM933 659V655h1V659zM934 659V656h1V659zM935 659V658h1V659zM938 659V658h1V659zM940 659V654h1V659zM943 659V656h1V659zM944 659V658h1V659zM946 659V655h1V659zM947 659V651h1V659zM949 659V642h1V659zM952 659V632h1V659zM953 659V651h1V659zM955 659V650h1V659zM956 659V656h1V659zM957 659V651h1V659zM958 659V653h1V659zM960 659V654h1V659zM961 659V658h1V659zM963 659V654h1V659zM964 659V656h1V659zM966 659V656h1V659zM969 659V657h1V659zM970 659V652h1V659zM971 659V647h1V659zM972 659V658h1V659zM974 659V658h1V659zM975 659V652h1V659zM976 659V658h1V659zM977 659V653h1V659zM978 659V656h1V659zM979 659V658h1V659zM980 659V645h1V659zM981 659V639h1V659zM982 659V657h1V659zM983 659V651h1V659zM985 659V645h1V659zM986 659V656h1V659zM987 659V649h1V659zM988 659V652h1V659zM991 659V658h1V659zM992 659V656h1V659zM993 659V658h1V659zM994 659V657h1V659zM995 659V643h1V659zM998 659V652h1V659zM999 659V657h1V659zM1000 659V654h1V659zM1001 659V658h1V659zM1002 659V654h1V659zM1003 659V656h1V659zM1005 659V658h1V659zM1006 659V650h1V659zM1007 659V657h1V659zM1008 659V654h1V659zM1009 659V658h1V659zM1010 659V648h1V659zM1013 659V646h1V659zM1016 659V653h1V659zM1018 659V655h1V659zM1019 659V658h1V659zM1020 659V658h1V659zM1021 659V658h1V659zM1022 659V644h1V659zM1026 659V643h1V659zM1028 659V600h1V659zM1029 659V617h1V659zM1030 659V643h1V659zM1031 659V656h1V659zM1032 659V649h1V659zM1033 659V650h1V659zM1034 659V654h1V659zM1035 659V658h1V659zM1036 659V650h1V659zM1037 659V651h1V659zM1038 659V652h1V659zM1039 659V647h1V659zM1040 659V658h1V659zM1041 659V645h1V659zM1042 659V655h1V659zM1045 659V652h1V659zM1046 659V658h1V659zM1047 659V646h1V659zM1048 659V647h1V659zM1050 659V650h1V659zM1051 659V644h1V659zM1052 659V650h1V659zM1053 659V655h1V659zM1056 659V645h1V659zM1057 659V653h1V659zM1058 659V652h1V659zM1059 659V647h1V659zM1062 659V655h1V659zM1063 659V658h1V659zM1064 659V656h1V659zM1065 659V651h1V659zM1067 659V651h1V659zM1069 659V641h1V659zM1070 659V647h1V659zM1072 659V641h1V659zM1073 659V651h1V659zM1075 659V655h1V659zM1077 659V638h1V659zM1078 659V637h1V659zM1079 659V656h1V659zM1080 659V653h1V659zM1081 659V654h1V659zM1084 659V653h1V659zM1087 659V651h1V659zM1088 659V651h1V659zM1089 659V641h1V659zM1090 659V658h1V659zM1091 659V653h1V659zM1092 659V649h1V659zM1094 659V654h1V659zM1097 659V653h1V659zM1098 659V652h1V659zM1099 659V658h1V659zM1102 659V658h1V659zM1103 659V650h1V659zM1105 659V658h1V659zM1107 659V655h1V659zM1108 659V658h1V659zM1110 659V651h1V659z" fill="#b7b7b7" shape-rendering="crispEdges"/>
</g>
<rect x="78.5" y="500.5" width="1085.0" height="159.0" fill="none" stroke="#000" stroke-width="1.11"/>
<line x1="73.1" y1="659.5" x2="78.5" y2="659.5" stroke="#000" stroke-width="1.11"/>
<text x="59.68" y="665.00" font-size="13.1" class="f" fill="#000" text-anchor="start" textLength="8.57" lengthAdjust="spacingAndGlyphs">0</text>
<line x1="73.1" y1="611.5" x2="78.5" y2="611.5" stroke="#000" stroke-width="1.11"/>
<text x="26.81" y="616.00" font-size="13.1" class="f" fill="#000" text-anchor="start" textLength="40.52" lengthAdjust="spacingAndGlyphs">10000</text>
<line x1="73.1" y1="562.5" x2="78.5" y2="562.5" stroke="#000" stroke-width="1.11"/>
<text x="27.18" y="568.00" font-size="13.1" class="f" fill="#000" text-anchor="start" textLength="40.14" lengthAdjust="spacingAndGlyphs">20000</text>
<line x1="73.1" y1="514.5" x2="78.5" y2="514.5" stroke="#000" stroke-width="1.11"/>
<text x="27.32" y="519.00" font-size="13.1" class="f" fill="#000" text-anchor="start" textLength="39.99" lengthAdjust="spacingAndGlyphs">30000</text>
<line x1="209.5" y1="659.5" x2="209.5" y2="664.7" stroke="#000" stroke-width="1.11"/>
<text x="182.97" y="678.80" font-size="13.0" class="f" fill="#000" text-anchor="start" textLength="53.38" lengthAdjust="spacingAndGlyphs">2021-01</text>
<line x1="401.5" y1="659.5" x2="401.5" y2="664.7" stroke="#000" stroke-width="1.11"/>
<text x="374.97" y="678.80" font-size="13.0" class="f" fill="#000" text-anchor="start" textLength="53.38" lengthAdjust="spacingAndGlyphs">2022-01</text>
<line x1="593.5" y1="659.5" x2="593.5" y2="664.7" stroke="#000" stroke-width="1.11"/>
<text x="566.97" y="678.80" font-size="13.0" class="f" fill="#000" text-anchor="start" textLength="53.38" lengthAdjust="spacingAndGlyphs">2023-01</text>
<line x1="785.5" y1="659.5" x2="785.5" y2="664.7" stroke="#000" stroke-width="1.11"/>
<text x="758.97" y="678.80" font-size="13.0" class="f" fill="#000" text-anchor="start" textLength="53.38" lengthAdjust="spacingAndGlyphs">2024-01</text>
<line x1="978.5" y1="659.5" x2="978.5" y2="664.7" stroke="#000" stroke-width="1.11"/>
<text x="951.97" y="678.80" font-size="13.0" class="f" fill="#000" text-anchor="start" textLength="53.38" lengthAdjust="spacingAndGlyphs">2025-01</text>
<text transform="translate(18.2 582.3) rotate(-90)" font-size="12.7" class="f" text-anchor="middle" textLength="44.6" lengthAdjust="spacingAndGlyphs">Volume</text>
<text x="78.33" y="716.70" font-size="16.4" class="f" fill="#000" text-anchor="start" textLength="29.48" lengthAdjust="spacingAndGlyphs">VDC</text>
<text x="113.60" y="717.00" font-size="17.0" class="f" fill="#000" text-anchor="start" textLength="65.40" lengthAdjust="spacingAndGlyphs">交易次数</text>
<text x="180.68" y="716.70" font-size="16.4" class="f" fill="#000" text-anchor="start" textLength="4.68" lengthAdjust="spacingAndGlyphs">:</text>
<text x="190.30" y="716.70" font-size="16.4" class="f" fill="#000" text-anchor="start" textLength="9.72" lengthAdjust="spacingAndGlyphs">3</text>
<text x="78.40" y="737.30" font-size="17.0" class="f" fill="#000" text-anchor="start" textLength="98.30" lengthAdjust="spacingAndGlyphs">策略总收益率</text>
<text x="177.29" y="736.20" font-size="16.4" class="f" fill="#000" text-anchor="start" textLength="5.26" lengthAdjust="spacingAndGlyphs">:</text>
<text x="188.13" y="736.20" font-size="16.4" class="f" fill="#000" text-anchor="start" textLength="56.49" lengthAdjust="spacingAndGlyphs">50.21%</text>
<text x="78.40" y="756.50" font-size="17.0" class="f" fill="#000" text-anchor="start" textLength="98.30" lengthAdjust="spacingAndGlyphs">长期持有收益</text>
<text x="177.29" y="755.40" font-size="16.4" class="f" fill="#000" text-anchor="start" textLength="5.26" lengthAdjust="spacingAndGlyphs">:</text>
<text x="188.13" y="755.40" font-size="16.4" class="f" fill="#000" text-anchor="start" textLength="56.49" lengthAdjust="spacingAndGlyphs">44.87%</text>
<text x="78.20" y="776.20" font-size="17.0" class="f" fill="#000" text-anchor="start" textLength="64.60" lengthAdjust="spacingAndGlyphs">交易记录</text>
<text x="143.29" y="775.00" font-size="16.4" class="f" fill="#000" text-anchor="start" textLength="5.26" lengthAdjust="spacingAndGlyphs">:</text>
<text x="88.04" y="792.60" font-size="16.4" class="f" fill="#000" text-anchor="start" textLength="65.03" lengthAdjust="spacingAndGlyphs">Buy Date</text>
<text x="163.45" y="792.60" font-size="16.4" class="f" fill="#000" text-anchor="start" textLength="66.84" lengthAdjust="spacingAndGlyphs">Buy Price</text>
<text x="240.87" y="792.60" font-size="16.4" class="f" fill="#000" text-anchor="start" textLength="65.80" lengthAdjust="spacingAndGlyphs">Sell Date</text>
<text x="317.18" y="792.60" font-size="16.4" class="f" fill="#000" text-anchor="start" textLength="67.62" lengthAdjust="spacingAndGlyphs">Sell Price</text>
<text x="394.73" y="792.60" font-size="16.4" class="f" fill="#000" text-anchor="start" textLength="94.47" lengthAdjust="spacingAndGlyphs">Holding Days</text>
<text x="499.14" y="792.60" font-size="16.4" class="f" fill="#000" text-anchor="start" textLength="55.13" lengthAdjust="spacingAndGlyphs">Profit %</text>
<text x="78.02" y="809.70" font-size="16.4" class="f" fill="#000" text-anchor="start" textLength="89.78" lengthAdjust="spacingAndGlyphs">2021-01-29</text>
<text x="192.26" y="809.70" font-size="16.4" class="f" fill="#000" text-anchor="start" textLength="54.83" lengthAdjust="spacingAndGlyphs">150.01</text>
<text x="252.52" y="809.70" font-size="16.4" class="f" fill="#000" text-anchor="start" textLength="89.99" lengthAdjust="spacingAndGlyphs">2022-02-03</text>
<text x="371.66" y="809.70" font-size="16.4" class="f" fill="#000" text-anchor="start" textLength="54.63" lengthAdjust="spacingAndGlyphs">181.16</text>
<text x="482.19" y="809.70" font-size="16.4" class="f" fill="#000" text-anchor="start" textLength="29.59" lengthAdjust="spacingAndGlyphs">370</text>
<text x="537.01" y="809.70" font-size="16.4" class="f" fill="#000" text-anchor="start" textLength="44.42" lengthAdjust="spacingAndGlyphs">20.77</text>
<text x="78.02" y="827.50" font-size="16.4" class="f" fill="#000" text-anchor="start" textLength="88.47" lengthAdjust="spacingAndGlyphs">2022-02-11</text>
<text x="192.26" y="827.50" font-size="16.4" class="f" fill="#000" text-anchor="start" textLength="54.83" lengthAdjust="spacingAndGlyphs">178.37</text>
<text x="252.52" y="827.50" font-size="16.4" class="f" fill="#000" text-anchor="start" textLength="88.69" lengthAdjust="spacingAndGlyphs">2025-03-11</text>
<text x="371.66" y="827.50" font-size="16.4" class="f" fill="#000" text-anchor="start" textLength="54.63" lengthAdjust="spacingAndGlyphs">216.05</text>
<text x="476.80" y="827.50" font-size="16.4" class="f" fill="#000" text-anchor="start" textLength="40.05" lengthAdjust="spacingAndGlyphs">1123</text>
<text x="542.10" y="827.50" font-size="16.4" class="f" fill="#000" text-anchor="start" textLength="45.05" lengthAdjust="spacingAndGlyphs">21.12</text>
<text x="78.02" y="844.90" font-size="16.4" class="f" fill="#000" text-anchor="start" textLength="89.78" lengthAdjust="spacingAndGlyphs">2025-03-12</text>
<text x="192.26" y="844.90" font-size="16.4" class="f" fill="#000" text-anchor="start" textLength="53.50" lengthAdjust="spacingAndGlyphs">211.63</text>
<text x="252.52" y="844.90" font-size="16.4" class="f" fill="#000" text-anchor="start" textLength="89.99" lengthAdjust="spacingAndGlyphs">2025-09-15</text>
<text x="371.66" y="844.90" font-size="16.4" class="f" fill="#000" text-anchor="start" textLength="54.63" lengthAdjust="spacingAndGlyphs">217.32</text>
<text x="481.99" y="844.90" font-size="16.4" class="f" fill="#000" text-anchor="start" textLength="29.04" lengthAdjust="spacingAndGlyphs">187</text>
<text x="542.10" y="844.90" font-size="16.4" class="f" fill="#000" text-anchor="start" textLength="34.93" lengthAdjust="spacingAndGlyphs">2.69</text>
</g>
</svg>
</body></html>
